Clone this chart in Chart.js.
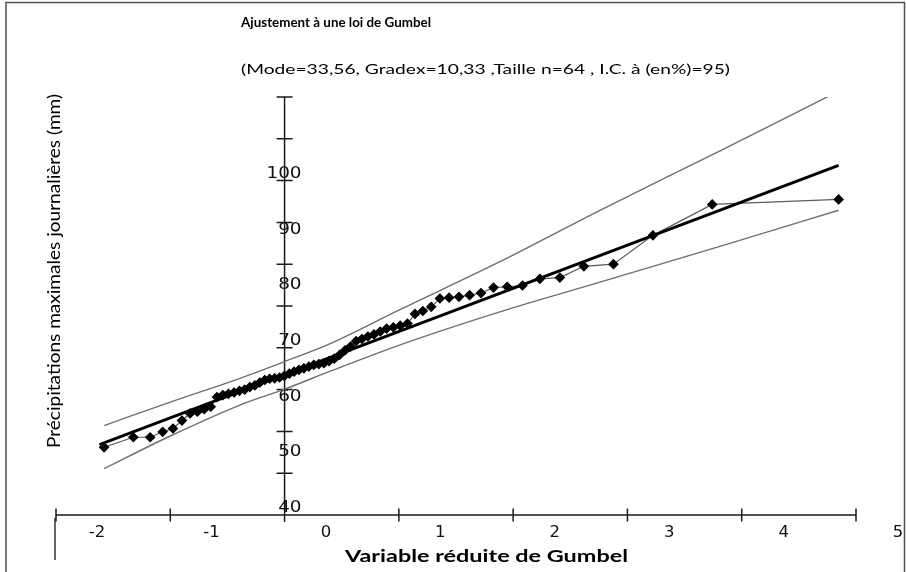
<!DOCTYPE html>
<html>
<head>
<meta charset="utf-8">
<script src="https://cdn.jsdelivr.net/npm/chart.js@4.4.1/dist/chart.umd.min.js"></script>
<style>
  html, body { margin: 0; padding: 0; background: #ffffff; }
  #wrap { width: 906px; height: 572px; position: relative; }
</style>
</head>
<body>
<div id="wrap"><canvas id="gumbel" width="906" height="572"></canvas></div>
<script>
// Texts
const titleText = 'Ajustement à une loi de Gumbel';
const subtitleText = '(Mode=33,56, Gradex=10,33 ,Taille n=64 , I.C. à (en%)=95)';
const xAxisTitle = 'Variable réduite de Gumbel';
const yAxisTitle = 'Précipitations maximales journalières (mm)';

// Fitted Gumbel law parameters
const mode = 33.56;
const gradex = 10.33;

// Observed sample: reduced Gumbel variable and daily maximum rainfall (mm)
const reducedVariable = [
  -1.579, -1.323, -1.176, -1.067, -0.976, -0.898, -0.827, -0.763, -0.703, -0.646,
  -0.592, -0.540, -0.491, -0.442, -0.395, -0.349, -0.304, -0.260, -0.216, -0.173,
  -0.130, -0.087, -0.044, -0.002, 0.041, 0.083, 0.126, 0.169, 0.212, 0.256,
  0.300, 0.344, 0.389, 0.435, 0.481, 0.529, 0.577, 0.626, 0.677, 0.729,
  0.782, 0.837, 0.893, 0.952, 1.012, 1.075, 1.141, 1.210, 1.283, 1.359,
  1.440, 1.526, 1.619, 1.719, 1.828, 1.948, 2.082, 2.234, 2.409, 2.619,
  2.878, 3.223, 3.742, 4.848
];
const rainfall = [
  16.2, 18.6, 18.6, 19.9, 20.7, 22.6, 24.3, 24.7, 25.3, 25.9,
  28.2, 28.7, 29.0, 29.3, 29.7, 30.0, 30.6, 31.0, 31.7, 32.3,
  32.6, 32.7, 32.9, 33.3, 33.8, 34.3, 34.7, 35.1, 35.5, 35.9,
  36.1, 36.3, 36.8, 37.4, 38.3, 39.4, 40.3, 41.6, 42.1, 42.7,
  43.2, 43.9, 44.6, 44.9, 45.3, 45.8, 48.1, 48.8, 49.8, 51.8,
  52.0, 52.2, 52.6, 53.1, 54.4, 54.6, 54.9, 56.5, 56.8, 59.5,
  60.0, 66.9, 74.3, 75.5
];

// 95 % confidence band
const ciVariable = [-1.579, -1.0, -0.39, 0.0, 0.4, 1.0, 1.884, 2.76, 3.824, 4.848];
const ciUpper    = [21.4, 27.0, 32.7, 36.7, 41.0, 49.0, 60.6, 72.9, 87.3, 101.4];
const ciLower    = [11.1, 18.9, 26.3, 30.1, 34.4, 40.6, 48.6, 55.7, 64.4, 72.9];

// Extent of the fitted line
const fitRange = [-1.62, 4.848];

// Axis ticks and their printed labels
const xTickValues = [-2, -1, 0, 1, 2, 3, 4, 5];
const yTickValues = [0, 10, 20, 30, 40, 50, 60, 70, 80, 90, 100];
const xTickLabels = ['-2', '-1', '0', '1', '2', '3', '4', '5'];
const yTickLabels = ['40', '50', '60', '70', '80', '90', '100'];

const toPoints = (xs, ys) => xs.map((v, i) => ({ x: v, y: ys[i] }));
const fitPoints = fitRange.map(u => ({ x: u, y: mode + gradex * u }));

// Draws a string stretched horizontally to a given width
function drawFitted(ctx, text, x, y, width, font, align, rotate) {
  ctx.save();
  ctx.font = font;
  const w = ctx.measureText(text).width;
  ctx.translate(x, y);
  if (rotate) ctx.rotate(rotate);
  ctx.scale(width / w, 1);
  ctx.textAlign = align;
  ctx.textBaseline = 'middle';
  ctx.fillText(text, 0, 0);
  ctx.restore();
}

function drawStretched(ctx, text, x, y, sx, font, align) {
  ctx.save();
  ctx.font = font;
  ctx.translate(x, y);
  ctx.scale(sx, 1);
  ctx.textAlign = align;
  ctx.textBaseline = 'middle';
  ctx.fillText(text, 0, 0);
  ctx.restore();
}

const gumbelFrame = {
  id: 'gumbelFrame',
  beforeDatasetsDraw(chart) {
    const { ctx } = chart;
    const { x, y, xl, yl } = chart.scales;
    const x0 = x.getPixelForValue(0);
    const y0 = y.getPixelForValue(0);
    ctx.save();

    // outer border
    ctx.strokeStyle = '#505050';
    ctx.lineWidth = 1.5;
    ctx.beginPath();
    ctx.moveTo(6, 572);
    ctx.lineTo(6, 2.5);
    ctx.lineTo(904.5, 2.5);
    ctx.lineTo(904.5, 572);
    ctx.stroke();

    // small stub under the left end of the axis
    ctx.strokeStyle = '#333333';
    ctx.lineWidth = 1.5;
    ctx.beginPath();
    ctx.moveTo(x.getPixelForValue(xTickValues[0]) - 1, y0 + 3);
    ctx.lineTo(x.getPixelForValue(xTickValues[0]) - 1, y0 + 45);
    ctx.stroke();

    // axes lines with crossing tick marks
    ctx.strokeStyle = '#1a1a1a';
    ctx.lineWidth = 1.5;
    ctx.beginPath();
    ctx.moveTo(x.getPixelForValue(xTickValues[0]), y0);
    ctx.lineTo(x.getPixelForValue(xTickValues[xTickValues.length - 1]), y0);
    ctx.moveTo(x0, y.getPixelForValue(yTickValues[yTickValues.length - 1]));
    ctx.lineTo(x0, y0 + 7);
    xTickValues.forEach(v => {
      const px = x.getPixelForValue(v);
      ctx.moveTo(px, y0 - 6.5);
      ctx.lineTo(px, y0 + 6.5);
    });
    yTickValues.forEach(v => {
      if (v === 0) return;
      const py = y.getPixelForValue(v);
      ctx.moveTo(x0 - 8, py);
      ctx.lineTo(x0 + 8, py);
    });
    ctx.stroke();

    // tick labels
    ctx.fillStyle = '#111111';
    xTickLabels.forEach(t => {
      drawStretched(ctx, t, xl.getPixelForValue(Number(t)), y0 + 18, 1.1, '15px "DejaVu Sans"', 'center');
    });
    yTickLabels.forEach(t => {
      drawStretched(ctx, t, x0 + 17, yl.getPixelForValue(Number(t)), 1.15, '16px "DejaVu Sans"', 'right');
    });

    // titles
    ctx.fillStyle = '#000000';
    drawFitted(ctx, titleText, 241, 22, 190, 'bold 14px Lato', 'left');
    drawFitted(ctx, subtitleText, 241, 70, 489, '13px Lato', 'left');
    drawFitted(ctx, xAxisTitle, 486.5, 557, 283, 'bold 17px Lato', 'center');
    drawFitted(ctx, yAxisTitle, 55, 271, 354, '17px Lato', 'center', -Math.PI / 2);

    ctx.restore();
  }
};

new Chart(document.getElementById('gumbel'), {
  type: 'scatter',
  data: {
    datasets: [
      {
        label: 'Borne supérieure',
        data: toPoints(ciVariable, ciUpper),
        showLine: true,
        borderColor: '#6f6f6f',
        borderWidth: 1.4,
        pointRadius: 0,
        cubicInterpolationMode: 'monotone'
      },
      {
        label: 'Borne inférieure',
        data: toPoints(ciVariable, ciLower),
        showLine: true,
        borderColor: '#6f6f6f',
        borderWidth: 1.4,
        pointRadius: 0,
        cubicInterpolationMode: 'monotone'
      },
      {
        label: 'Gumbel',
        data: fitPoints,
        showLine: true,
        borderColor: '#000000',
        borderWidth: 3,
        pointRadius: 0
      },
      {
        label: 'Observations',
        data: toPoints(reducedVariable, rainfall),
        showLine: true,
        borderColor: '#5a5a5a',
        borderWidth: 1.2,
        pointStyle: 'rectRot',
        pointRadius: 4.5,
        pointBorderWidth: 1.2,
        pointBackgroundColor: '#000000',
        pointBorderColor: '#000000'
      }
    ]
  },
  options: {
    responsive: false,
    animation: false,
    layout: { padding: { left: 56, right: 50, top: 97, bottom: 57 } },
    plugins: { legend: { display: false }, title: { display: false }, tooltip: { enabled: false } },
    scales: {
      x: { type: 'linear', min: -2, max: 5, display: false },
      y: { type: 'linear', min: 0, max: 100, display: false },
      xl: { type: 'linear', axis: 'x', position: 'bottom', min: -2.359, max: 4.6325, display: false },
      yl: { type: 'linear', axis: 'y', position: 'left', min: 38.74, max: 113.83, display: false }
    }
  },
  plugins: [gumbelFrame]
});
</script>
</body>
</html>
